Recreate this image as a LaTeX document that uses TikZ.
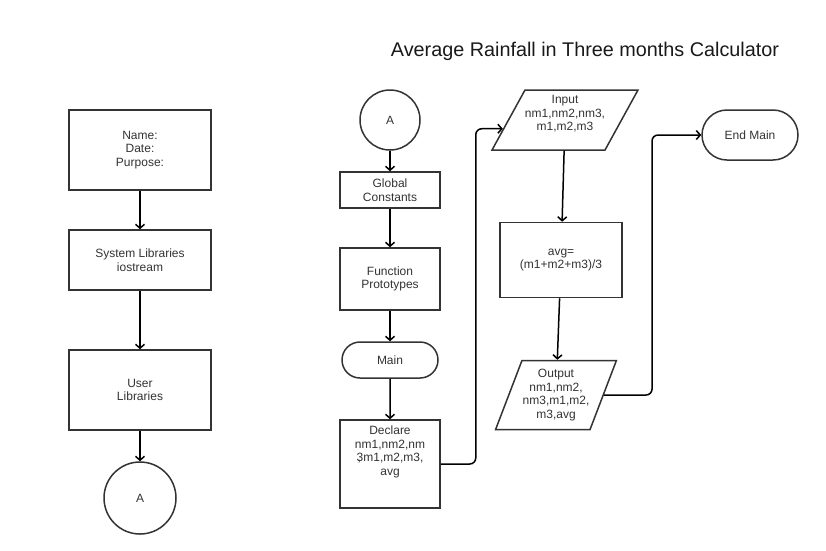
\documentclass[tikz,border=0pt]{standalone}
\usepackage{fontspec}
\setmainfont{Liberation Sans}
\usetikzlibrary{arrows.meta, positioning, shapes.geometric, shapes.misc}

\begin{document}
\begin{tikzpicture}[
    x=1pt, y=-1pt,
    box/.style={
        rectangle, draw=black!80, line width=1.5pt, fill=white,
        align=center, text=black!80,
        font=\fontsize{12}{13.5}\selectfont,
        inner sep=2pt
    },
    term/.style={box, rounded rectangle},
    io/.style={
        box, trapezium, trapezium stretches=true,
        trapezium left angle=58, trapezium right angle=122,
        inner xsep=0pt
    },
    con/.style={box, circle},
    conn/.style={-{Straight Barb[length=4pt, width=9pt]}, line width=1.5pt, black}
]
\useasboundingbox (0,0) rectangle (826,550);

% === TITLE ===

\node[font=\fontsize{19.8}{23}\selectfont, text=black!90] (title) at (585,51) {Average Rainfall in Three months Calculator};

% === LEFT COLUMN ===

\node[box, minimum width=142, minimum height=80] (info) at (140,150) {Name:\\Date:\\Purpose:};
\node[box, minimum width=142, minimum height=60] (syslib) at (140,260) {System Libraries\\iostream};
\node[box, minimum width=142, minimum height=80] (userlib) at (140,390) {User\\Libraries};
\node[con, minimum size=72] (offA) at (140,498) {A};

% === MIDDLE COLUMN ===

\node[con, minimum size=60] (onA) at (390,120) {A};
\node[box, minimum width=100, minimum height=36] (glob) at (390,190) {Global\\Constants};
\node[box, minimum width=100, minimum height=62] (proto) at (390,279) {Function\\Prototypes};
\node[term, minimum width=100, minimum height=36] (main) at (390,360) {Main};
\node[box, minimum width=100, minimum height=88] (decl) at (390,464) {%
Declare\\
nm1,nm2,nm\\
\rlap{\hspace{1pt},}3m1,m2,m3,\\
avg\\
~\\
~};

% === RIGHT COLUMN ===

\node[io, minimum width=145, minimum height=60] (inp) at (565,120) {%
Input\\
nm1,nm2,nm3,\\
m1,m2,m3\\
~};
\node[box, minimum width=122, minimum height=75] (calc) at (561,260) {avg=\\(m1+m2+m3)/3};
\node[io, trapezium left angle=65, trapezium right angle=115,
      minimum width=121, minimum height=69] (outp) at (556,395) {%
Output\\
nm1,nm2,\\
nm3,m1,m2,\\
m3,avg};
\node[term, minimum width=100, minimum height=50] (endm) at (750,135) {End Main};

% === CONNECTORS ===

\draw[conn] (info) -- (syslib);
\draw[conn] (syslib) -- (userlib);
\draw[conn] (userlib) -- (offA);

\draw[conn] (onA) -- (glob);
\draw[conn] (glob) -- (proto);
\draw[conn] (proto) -- (main);
\draw[conn] (main) -- (decl);

% declare -> input
\draw[conn, rounded corners=6pt] (decl.east) -- ++(35,0) |- (inp.188);

\draw[conn] (inp) -- (calc);
\draw[conn] (calc) -- (outp);

% output -> end main
\draw[conn, rounded corners=6pt] (outp.east) -- ++(48,0) |- (endm.west);

\end{tikzpicture}
\end{document}
